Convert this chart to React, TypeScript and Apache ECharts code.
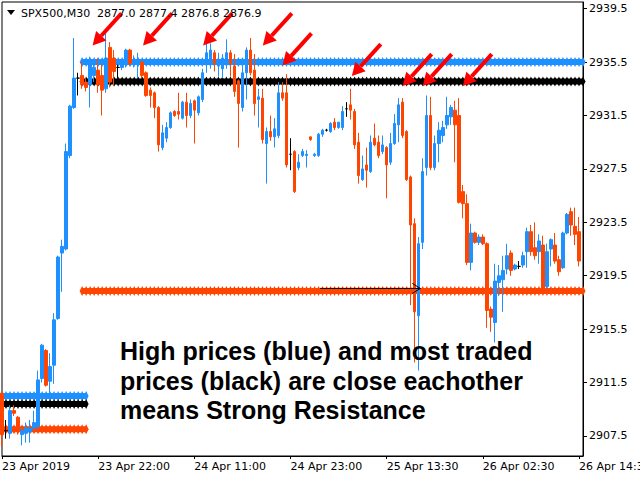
import React, { useEffect, useRef } from "react";
import * as echarts from "echarts";

// ---- Data ----
const opens = [
  2910.7, 2907.9, 2907.7, 2909.4, 2908.9, 2907.6, 2907.7, 2907.8, 2908.1, 2908.2,
  2911.8, 2913.9, 2911.6, 2912.8, 2916.3, 2921.2, 2921.5, 2928.5, 2932.1, 2934.3,
  2934.5, 2934.0, 2933.8, 2934.5, 2934.9, 2934.5, 2933.5, 2936.6, 2935.8, 2935.1,
  2935.1, 2935.3, 2936.4, 2935.4, 2935.5, 2935.5, 2934.7, 2933.4, 2933.2, 2932.1,
  2929.1, 2929.8, 2930.6, 2931.8, 2931.8, 2931.3, 2932.5, 2931.5, 2932.6, 2931.7,
  2932.7, 2935.5, 2935.4, 2936.2, 2935.2, 2935.0, 2935.4, 2936.2, 2935.2, 2934.1,
  2932.1, 2934.7, 2936.4, 2934.9, 2932.7, 2932.8, 2929.4, 2930.3, 2929.9, 2930.0,
  2933.2, 2933.2, 2928.6, 2928.8, 2927.6, 2928.5, 2928.5, 2929.9, 2928.5, 2928.5,
  2930.1, 2930.4, 2930.3, 2931.0, 2930.6, 2930.6, 2932.0, 2932.3, 2931.8, 2929.5,
  2926.7, 2927.8, 2927.3, 2929.8, 2929.5, 2928.8, 2929.1, 2928.0, 2929.4, 2930.8,
  2932.5, 2930.3, 2926.9, 2923.4, 2916.5, 2922.0, 2927.6, 2931.5, 2927.6, 2929.4,
  2930.0, 2930.8, 2931.4, 2931.9, 2931.5, 2925.8, 2924.9, 2920.5, 2922.7, 2922.0,
  2922.4, 2921.9, 2917.0, 2916.0, 2919.0, 2919.2, 2920.0, 2921.2, 2920.0, 2920.2,
  2920.3, 2921.3, 2922.8, 2921.6, 2921.3, 2921.8, 2918.7, 2921.5, 2921.8, 2920.7,
  2920.1, 2922.7, 2924.3, 2923.2, 2922.8,
];
const highs = [
  2910.8, 2908.7, 2909.8, 2909.8, 2909.0, 2908.1, 2908.5, 2908.7, 2909.4, 2912.4,
  2914.4, 2914.0, 2913.7, 2916.7, 2921.0, 2922.2, 2929.4, 2932.3, 2937.3, 2934.7,
  2935.5, 2934.3, 2935.9, 2935.6, 2935.8, 2935.3, 2937.7, 2937.0, 2936.4, 2935.3,
  2935.6, 2936.5, 2936.5, 2936.0, 2936.2, 2935.6, 2934.8, 2933.6, 2933.3, 2932.2,
  2930.8, 2931.0, 2931.8, 2931.9, 2933.2, 2932.6, 2933.2, 2932.7, 2932.7, 2933.0,
  2935.0, 2936.9, 2936.9, 2936.4, 2936.2, 2936.1, 2937.2, 2936.4, 2936.1, 2934.2,
  2935.3, 2936.6, 2937.3, 2936.1, 2933.5, 2933.5, 2930.6, 2931.5, 2931.3, 2934.0,
  2934.0, 2934.6, 2929.8, 2928.9, 2928.6, 2929.0, 2928.9, 2929.9, 2928.7, 2930.2,
  2930.5, 2930.5, 2931.0, 2931.3, 2931.0, 2932.2, 2932.5, 2933.5, 2932.0, 2930.2,
  2928.5, 2929.1, 2930.0, 2930.9, 2930.0, 2930.0, 2929.2, 2930.2, 2931.6, 2932.8,
  2932.8, 2930.4, 2927.0, 2923.8, 2922.4, 2928.3, 2933.0, 2932.9, 2930.0, 2931.0,
  2931.1, 2932.9, 2932.3, 2932.6, 2932.8, 2926.3, 2925.6, 2923.4, 2922.8, 2922.6,
  2922.6, 2922.0, 2917.2, 2920.4, 2920.3, 2921.0, 2921.9, 2921.4, 2920.4, 2920.6,
  2921.3, 2923.1, 2923.3, 2923.5, 2922.6, 2922.5, 2921.9, 2922.3, 2922.7, 2921.0,
  2922.8, 2924.2, 2924.6, 2924.6, 2923.9,
];
const lows = [
  2906.7, 2907.3, 2907.3, 2909.0, 2907.6, 2906.8, 2907.0, 2907.0, 2907.9, 2908.0,
  2911.5, 2911.2, 2910.7, 2911.4, 2916.2, 2918.3, 2921.4, 2928.3, 2932.0, 2933.0,
  2933.5, 2933.3, 2932.1, 2934.0, 2933.2, 2931.5, 2933.2, 2933.6, 2933.7, 2934.3,
  2934.9, 2935.1, 2935.2, 2935.1, 2934.3, 2934.3, 2932.9, 2932.1, 2931.3, 2928.8,
  2928.9, 2929.5, 2930.5, 2931.4, 2931.2, 2931.2, 2930.6, 2931.3, 2929.4, 2931.5,
  2932.5, 2934.7, 2935.0, 2934.8, 2934.4, 2934.3, 2935.0, 2934.4, 2932.9, 2929.1,
  2931.8, 2932.7, 2934.5, 2931.5, 2930.6, 2929.4, 2926.4, 2929.6, 2929.1, 2929.8,
  2932.6, 2927.6, 2927.4, 2925.7, 2927.4, 2928.4, 2927.6, 2929.6, 2928.4, 2928.4,
  2929.9, 2930.3, 2930.2, 2930.4, 2930.5, 2930.4, 2931.4, 2931.2, 2929.0, 2926.4,
  2926.6, 2926.1, 2927.2, 2929.2, 2928.3, 2928.6, 2925.3, 2927.8, 2929.3, 2929.5,
  2929.8, 2926.6, 2917.3, 2913.0, 2912.4, 2921.5, 2927.0, 2927.4, 2927.4, 2928.0,
  2929.5, 2930.5, 2930.8, 2928.0, 2924.9, 2923.8, 2920.3, 2919.9, 2921.9, 2921.8,
  2921.8, 2915.6, 2915.3, 2914.5, 2918.0, 2916.8, 2919.6, 2919.5, 2919.9, 2920.0,
  2920.1, 2920.1, 2921.0, 2920.7, 2920.4, 2918.3, 2918.5, 2920.2, 2920.4, 2919.5,
  2920.0, 2922.6, 2922.5, 2921.8, 2920.2,
];
const closes = [
  2907.6, 2907.9, 2909.4, 2909.2, 2907.9, 2907.9, 2908.1, 2908.1, 2908.5, 2911.7,
  2914.3, 2911.3, 2912.7, 2916.2, 2920.9, 2921.7, 2928.8, 2932.2, 2934.3, 2934.3,
  2933.8, 2933.6, 2935.3, 2935.1, 2933.8, 2933.4, 2935.8, 2934.0, 2934.8, 2935.1,
  2935.5, 2936.4, 2935.4, 2935.6, 2935.7, 2934.5, 2933.0, 2933.0, 2932.1, 2929.3,
  2930.2, 2930.6, 2931.7, 2931.5, 2931.6, 2932.5, 2931.5, 2932.4, 2931.9, 2932.9,
  2934.7, 2936.2, 2936.4, 2935.4, 2935.6, 2935.8, 2936.2, 2935.4, 2933.3, 2932.4,
  2934.7, 2936.4, 2934.7, 2932.4, 2932.9, 2929.7, 2930.3, 2929.9, 2930.5, 2933.2,
  2932.8, 2927.8, 2928.6, 2925.8, 2928.0, 2928.8, 2928.6, 2929.7, 2928.6, 2930.1,
  2930.4, 2930.4, 2930.9, 2930.6, 2931.0, 2931.8, 2932.0, 2931.9, 2929.3, 2927.0,
  2927.5, 2927.4, 2929.5, 2929.3, 2928.5, 2929.3, 2927.8, 2929.4, 2930.9, 2932.3,
  2930.0, 2926.7, 2923.3, 2916.8, 2921.9, 2927.3, 2931.5, 2927.6, 2929.4, 2930.4,
  2930.6, 2931.5, 2932.1, 2930.8, 2925.0, 2924.9, 2920.5, 2922.7, 2922.0, 2922.4,
  2921.9, 2916.9, 2916.4, 2919.1, 2919.5, 2919.9, 2921.0, 2919.9, 2920.3, 2920.2,
  2921.0, 2922.8, 2921.3, 2921.0, 2922.1, 2918.4, 2921.3, 2922.2, 2920.6, 2919.8,
  2922.7, 2924.1, 2923.3, 2922.6, 2920.6,
];

const slotCount = 146; // 145 bars + one empty slot at the right edge
const xTickIndex = [0, 24, 48, 72, 96, 120, 144];
const xTickLabels = [
  "23 Apr 2019",
  "23 Apr 22:00",
  "24 Apr 11:00",
  "24 Apr 23:00",
  "25 Apr 13:30",
  "26 Apr 02:30",
  "26 Apr 14:30",
];
const yTickValues = [2907.5, 2911.5, 2915.5, 2919.5, 2923.5, 2927.5, 2931.5, 2935.5, 2939.5];

// horizontal level lines: price, first bar, last bar
const levelPrices = [2935.5, 2934.05, 2918.35, 2910.5, 2909.9, 2908.0];
const levelStart = [20, 20, 20, 0, 0, 0];
const levelEnd = [145, 145, 145, 21, 21, 21];
const levelKinds = ["high", "traded", "low", "high", "traded", "low"];

// red annotation arrows: tip (bar index, price)
const arrowTips = [
  [22.6, 2936.75],
  [35.2, 2936.75],
  [50.2, 2936.75],
  [65.1, 2936.75],
  [70.0, 2935.25],
  [87.3, 2934.45],
  [100.0, 2933.7],
  [105.0, 2933.7],
  [115.0, 2933.7],
];
// thin black arrow: from bar, to bar, price
const trendArrow = [[79.4, 104.4, 2918.55]];

const titleText = "SPX500,M30  2877.0 2877.4 2876.8 2876.9";
const noteLines = [
  "High prices (blue) and most traded",
  "prices (black) are close eachother",
  "means Strong Resistance",
];

const BLUE = "#1E90FF";
const RED = "#FF4500";
const FONT = "DejaVu Sans";

export default function App() {
  const ref = useRef<HTMLDivElement>(null);

  useEffect(() => {
    if (!ref.current) return;
    const chart = echarts.init(ref.current, undefined, { renderer: "svg", width: 640, height: 480 });

    const categories = Array.from({ length: slotCount }, (_, i) => String(i));
    const candleData = opens.map((o, i) => [o, closes[i], lows[i], highs[i]]);
    const kindColor: Record<string, string> = { high: BLUE, traded: "#000000", low: RED };

    const levelSeries = levelPrices.map((p, k) => {
      const pts: number[][] = [];
      for (let i = levelStart[k]; i <= levelEnd[k]; i++) pts.push([i, p]);
      const c = kindColor[levelKinds[k]];
      return {
        type: "line",
        xAxisIndex: 1,
        yAxisIndex: 0,
        data: pts,
        symbol: "diamond",
        symbolSize: [5, 10],
        showAllSymbol: true,
        lineStyle: { color: c, width: 6 },
        itemStyle: { color: c, borderWidth: 0 },
        silent: true,
        z: 2,
      };
    });

    const option: any = {
      animation: false,
      backgroundColor: "#ffffff",
      grid: {
        left: 2,
        right: 57,
        top: 2,
        bottom: 24,
        show: true,
        borderColor: "#000000",
        borderWidth: 1,
        backgroundColor: "#ffffff",
        containLabel: false,
        outerBoundsMode: "none",
      },
      xAxis: [
        {
          type: "category",
          data: categories,
          boundaryGap: false,
          axisLine: { show: true, lineStyle: { color: "#000000", width: 1 } },
          axisTick: {
            show: true,
            length: 3,
            interval: (i: number) => xTickIndex.indexOf(i) >= 0,
            lineStyle: { color: "#000000" },
          },
          axisLabel: {
            show: true,
            interval: (i: number) => xTickIndex.indexOf(i) >= 0,
            formatter: (_v: string, i: number) => {
              const k = xTickIndex.indexOf(i);
              return k >= 0 ? xTickLabels[k] : "";
            },
            align: "left",
            margin: 5,
            color: "#000000",
            fontFamily: FONT,
            fontSize: 11,
            hideOverlap: false,
          },
          splitLine: { show: false },
        },
        {
          type: "value",
          min: 0,
          max: slotCount - 1,
          show: false,
          gridIndex: 0,
        },
      ],
      yAxis: {
        type: "value",
        position: "right",
        min: 2906,
        max: 2940,
        scale: true,
        axisLine: { show: true, onZero: false, lineStyle: { color: "#000000", width: 1 } },
        axisTick: { show: true, length: 4, customValues: yTickValues, lineStyle: { color: "#000000" } },
        axisLabel: {
          show: true,
          customValues: yTickValues,
          formatter: (v: number) => v.toFixed(1),
          margin: 6,
          color: "#000000",
          fontFamily: FONT,
          fontSize: 11,
        },
        splitLine: { show: false },
      },
      series: [
        ...levelSeries,
        {
          type: "candlestick",
          xAxisIndex: 0,
          yAxisIndex: 0,
          data: candleData,
          barWidth: 3,
          itemStyle: {
            color: BLUE,
            color0: RED,
            borderColor: BLUE,
            borderColor0: RED,
            borderColorDoji: "#000000",
            borderWidth: 1,
          },
          silent: true,
          z: 5,
        },
        {
          type: "custom",
          xAxisIndex: 1,
          yAxisIndex: 0,
          data: trendArrow,
          encode: { x: [0, 1], y: 2 },
          silent: true,
          z: 8,
          renderItem: (_p: any, api: any) => {
            const a = api.coord([api.value(0), api.value(2)]);
            const b = api.coord([api.value(1), api.value(2)]);
            return {
              type: "group",
              children: [
                { type: "line", shape: { x1: a[0], y1: a[1], x2: b[0], y2: b[1] }, style: { stroke: "#000000", lineWidth: 1 } },
                { type: "polyline", shape: { points: [[b[0] - 8, b[1] - 5], [b[0], b[1]], [b[0] - 8, b[1] + 5]] }, style: { stroke: "#000000", lineWidth: 1, fill: null } },
              ],
            };
          },
        },
        {
          type: "custom",
          xAxisIndex: 1,
          yAxisIndex: 0,
          data: arrowTips,
          encode: { x: 0, y: 1 },
          silent: true,
          z: 10,
          renderItem: (_p: any, api: any) => {
            const t = api.coord([api.value(0), api.value(1)]);
            const dx = 29, dy = -32;
            const len = Math.hypot(dx, dy);
            const ux = -dx / len, uy = -dy / len;
            const headLen = 13, headHalf = 7;
            const bx = t[0] - ux * headLen, by = t[1] - uy * headLen;
            const px = -uy, py = ux;
            return {
              type: "group",
              children: [
                { type: "line", shape: { x1: t[0] + dx, y1: t[1] + dy, x2: bx, y2: by }, style: { stroke: "#FF0000", lineWidth: 4 } },
                {
                  type: "polygon",
                  shape: { points: [[t[0], t[1]], [bx + px * headHalf, by + py * headHalf], [bx - px * headHalf, by - py * headHalf]] },
                  style: { fill: "#FF0000" },
                },
              ],
            };
          },
        },
      ],
      graphic: [
        { type: "polygon", shape: { points: [[7, 10], [15, 10], [11, 15]] }, style: { fill: "#000000" }, z: 20 },
        {
          type: "text",
          x: 21,
          y: 13,
          style: { text: titleText, fill: "#000000", font: `11px '${FONT}'`, verticalAlign: "middle", align: "left" },
          z: 20,
        },
        ...noteLines.map((t, i) => ({
          type: "text",
          x: 120,
          y: 351 + i * 29.5,
          style: {
            text: t,
            fill: "#000000",
            font: "bold 25px 'Liberation Sans'",
            verticalAlign: "middle",
            align: "left",
          },
          z: 20,
        })),
      ],
    };

    chart.setOption(option);
    return () => chart.dispose();
  }, []);

  return (
    <div
      ref={ref}
      style={{ position: "fixed", left: 0, top: 0, width: 640, height: 480, background: "#ffffff" }}
    />
  );
}
